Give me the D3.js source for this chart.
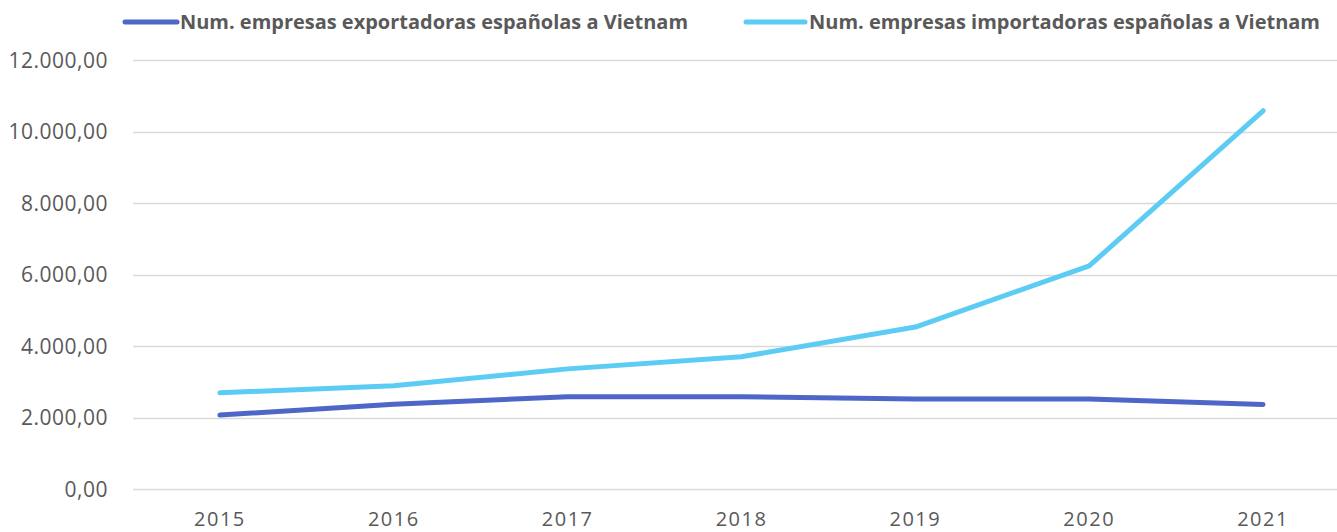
<!DOCTYPE html>
<html>
<head>
<meta charset="utf-8">
<script src="https://cdn.jsdelivr.net/npm/d3@7"></script>
<style>
  body { margin: 0; background: #fff; }
  svg { display: block; }
</style>
</head>
<body>
<svg id="chart" width="1337" height="532"></svg>
<script>
// ---- data ----
const years = ["2015", "2016", "2017", "2018", "2019", "2020", "2021"];
const exportadoras = [2070, 2370, 2580, 2580, 2515, 2515, 2365];
const importadoras = [2690, 2890, 3360, 3700, 4530, 6240, 10580];
const yTicks = [0, 2000, 4000, 6000, 8000, 10000, 12000];
const seriesNames = [
  "Num. empresas exportadoras españolas a Vietnam",
  "Num. empresas importadoras españolas a Vietnam"
];

const colors = ["#4E66C8", "#5DCCF4"];
const W = 1337, H = 532;
const plot = { left: 133, right: 1350, top: 60, bottom: 489 };

const svg = d3.select("#chart");
const font = "'Open Sans', 'Noto Sans', sans-serif";

const x = d3.scalePoint().domain(years).range([plot.left, plot.right]).padding(0.5);
const y = d3.scaleLinear().domain([0, 12000]).range([plot.bottom, plot.top]);

// spanish number format: 12.000,00
const fmt = v => d3.format(",.2f")(v).replace(/,/g, "#").replace(".", ",").replace(/#/g, ".");

// gridlines
svg.append("g")
  .selectAll("line")
  .data(yTicks)
  .join("line")
  .attr("x1", plot.left)
  .attr("x2", W)
  .attr("y1", d => Math.round(y(d)) + 0.5)
  .attr("y2", d => Math.round(y(d)) + 0.5)
  .attr("stroke", "#d9d9d9")
  .attr("stroke-width", 1.5);

// y axis labels
svg.append("g")
  .selectAll("text")
  .data(yTicks)
  .join("text")
  .attr("x", 108)
  .attr("y", d => y(d) + 7.5)
  .attr("text-anchor", "end")
  .attr("font-family", font)
  .attr("font-size", 21)
  .attr("letter-spacing", 0.5)
  .attr("fill", "#595959")
  .text(d => fmt(d));

// x axis labels
svg.append("g")
  .selectAll("text")
  .data(years)
  .join("text")
  .attr("x", d => x(d))
  .attr("y", 526)
  .attr("text-anchor", "middle")
  .attr("font-family", font)
  .attr("font-size", 20)
  .attr("letter-spacing", 1.5)
  .attr("fill", "#595959")
  .text(d => d);

// lines
const line = d3.line()
  .x((d, i) => x(years[i]))
  .y(d => y(d));

[exportadoras, importadoras].forEach((vals, i) => {
  svg.append("path")
    .datum(vals)
    .attr("d", line)
    .attr("fill", "none")
    .attr("stroke", colors[i])
    .attr("stroke-width", 5)
    .attr("stroke-linecap", "round")
    .attr("stroke-linejoin", "round");
});

// legend
const legend = [
  { x1: 125, x2: 177, tx: 180, tend: 688 },
  { x1: 746, x2: 805, tx: 809, tend: 1320 }
];
legend.forEach((l, i) => {
  svg.append("line")
    .attr("x1", l.x1).attr("x2", l.x2)
    .attr("y1", 22).attr("y2", 22)
    .attr("stroke", colors[i])
    .attr("stroke-width", 5)
    .attr("stroke-linecap", "round");
  svg.append("text")
    .attr("x", l.tx)
    .attr("y", 29)
    .attr("font-family", font)
    .attr("font-weight", "bold")
    .attr("font-size", 19)
    .attr("fill", "#595959")
    .attr("textLength", l.tend - l.tx)
    .attr("lengthAdjust", "spacingAndGlyphs")
    .text(seriesNames[i]);
});
</script>
</body>
</html>
